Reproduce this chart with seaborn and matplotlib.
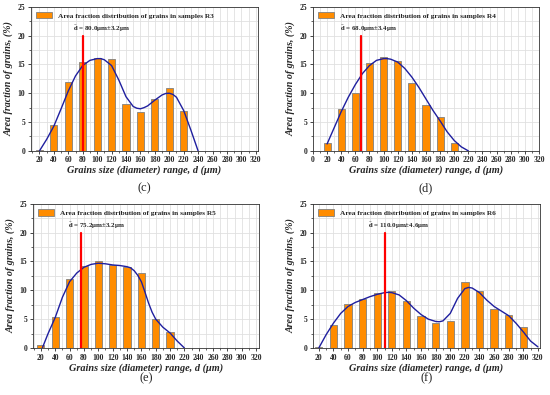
import numpy as np
import pandas as pd
import seaborn as sns
import matplotlib.pyplot as plt
from matplotlib.patches import Patch
from matplotlib.ticker import MultipleLocator

# bar data: grain size class (um) and area fraction (%)
sizes_r3 = [20, 40, 60, 80, 100, 120, 140, 160, 180, 200, 220]
frac_r3 = [0.2, 4.5, 11.9, 15.4, 16.1, 15.9, 8.1, 6.7, 9.0, 10.9, 6.9]
sizes_r4 = [20, 40, 60, 80, 100, 120, 140, 160, 180, 200]
frac_r4 = [1.3, 7.3, 10.1, 15.2, 16.2, 15.6, 11.7, 7.9, 5.8, 1.3]
sizes_r5 = [20, 40, 60, 80, 100, 120, 140, 160, 180, 200]
frac_r5 = [0.5, 5.4, 12.0, 14.2, 15.0, 14.4, 14.1, 13.0, 5.1, 2.8]
sizes_r6 = [20, 40, 60, 80, 100, 120, 140, 160, 180, 200, 220, 240, 260, 280, 300]
frac_r6 = [0.2, 4.0, 7.6, 8.5, 9.6, 9.9, 8.2, 5.6, 4.3, 4.7, 11.4, 9.9, 6.8, 5.8, 3.7]

# fitted curves
fit_x_r3 = [20, 30, 40, 50, 60, 70, 80, 90, 100, 105, 110, 120, 130, 140, 150, 155, 160, 165, 170, 180, 190, 195, 200, 205, 210, 220, 230, 240]
fit_y_r3 = [0.0, 2.0, 4.3, 7.3, 10.4, 13.0, 14.8, 15.7, 16.0, 16.0, 15.8, 14.8, 12.3, 9.4, 7.7, 7.4, 7.3, 7.5, 7.8, 8.8, 9.7, 9.95, 10.0, 9.8, 9.3, 7.0, 3.6, 0.0]
fit_x_r4 = [20, 30, 40, 50, 60, 70, 80, 90, 100, 105, 110, 120, 130, 140, 150, 160, 170, 180, 190, 200, 210, 220]
fit_y_r4 = [1.2, 4.0, 6.8, 9.3, 11.5, 13.4, 14.8, 15.7, 16.0, 16.0, 15.9, 15.4, 14.3, 12.8, 11.0, 9.0, 7.0, 5.2, 3.3, 1.8, 0.7, 0.0]
fit_x_r5 = [22, 30, 40, 50, 60, 70, 80, 90, 100, 110, 120, 130, 140, 145, 150, 155, 160, 165, 170, 175, 180, 190, 200, 210, 220]
fit_y_r5 = [0.0, 2.5, 5.3, 8.8, 11.5, 13.0, 14.0, 14.5, 14.7, 14.6, 14.4, 14.3, 14.1, 13.9, 13.4, 12.6, 11.5, 9.7, 7.8, 6.2, 5.0, 3.6, 2.6, 1.2, 0.0]
fit_x_r6 = [20, 30, 40, 50, 60, 70, 80, 90, 100, 110, 115, 120, 130, 140, 150, 160, 170, 180, 185, 190, 200, 210, 220, 225, 230, 240, 250, 260, 270, 280, 290, 300, 310, 320]
fit_y_r6 = [0.0, 2.3, 4.3, 6.0, 7.2, 7.9, 8.4, 8.9, 9.3, 9.6, 9.65, 9.6, 9.2, 8.2, 6.9, 5.8, 5.0, 4.6, 4.55, 4.7, 6.0, 8.6, 10.3, 10.5, 10.4, 9.6, 8.3, 7.2, 6.4, 5.6, 4.3, 2.8, 1.2, 0.2]

# mean grain size
mean_d = [80.0, 68.0, 75.2, 110.0]
mean_err = [3.2, 3.4, 3.2, 4.6]
samples = ['R3', 'R4', 'R5', 'R6']
panel_tags = ['(c)', '(d)', '(e)', '(f)']

sns.set_style('ticks')
plt.rcParams['font.family'] = ['Liberation Serif', 'DejaVu Serif']
plt.rcParams['mathtext.fontset'] = 'stix'

bar_color = '#ff8c00'
edge_color = '#808080'
fit_color = '#1f1f9f'

fig = plt.figure(figsize=(5.5, 3.95), dpi=100)

# [left, bottom, width, height, xmin, xmax, xticks, tag_y]
boxes = [
    [0.056, 0.618, 0.413, 0.365, 8, 323, list(range(20, 321, 20)), 0.524],
    [0.569, 0.618, 0.411, 0.365, 0, 320, list(range(0, 321, 20)), 0.524],
    [0.060, 0.119, 0.411, 0.365, 9, 324, list(range(20, 321, 20)), 0.043],
    [0.569, 0.119, 0.413, 0.365, 12, 323, list(range(20, 321, 20)), 0.043],
]
label_dx = [-14, -30, -18, -22]

bars = [(sizes_r3, frac_r3), (sizes_r4, frac_r4), (sizes_r5, frac_r5), (sizes_r6, frac_r6)]
fits = [(fit_x_r3, fit_y_r3), (fit_x_r4, fit_y_r4), (fit_x_r5, fit_y_r5), (fit_x_r6, fit_y_r6)]

for i in range(4):
    l, b, w, h, x0, x1, xt, ty = boxes[i]
    ax = fig.add_axes([l, b, w, h])

    # grid first, under everything
    ax.set_axisbelow(True)
    ax.grid(True, which='both', color='#e0e0e0', linewidth=0.6)

    df = pd.DataFrame({'size': bars[i][0], 'frac': bars[i][1]})
    sns.barplot(data=df, x='size', y='frac', native_scale=True, width=0.5,
                color=bar_color, edgecolor=edge_color, linewidth=0.6,
                saturation=1, ax=ax)

    fit = pd.DataFrame({'x': fits[i][0], 'y': fits[i][1]})
    sns.lineplot(data=fit, x='x', y='y', color=fit_color, linewidth=1.0, ax=ax)

    # mean grain size marker
    ax.plot([mean_d[i], mean_d[i]], [0, 20], color='red', linewidth=1.6)
    ax.text(mean_d[i] + label_dx[i], 20.3,
            r'$\bar{\mathbf{d}}$' + ' = %.1f\u03bcm\u00b1%.1f\u03bcm' % (mean_d[i], mean_err[i]),
            fontsize=5, fontweight='bold', ha='left', va='bottom')

    ax.set_xlim(x0, x1)
    ax.set_ylim(0, 25)
    ax.set_xticks(xt)
    ax.set_yticks([0, 5, 10, 15, 20, 25])
    ax.xaxis.set_minor_locator(MultipleLocator(10))
    ax.yaxis.set_minor_locator(MultipleLocator(2.5))
    ax.tick_params(axis='both', which='major', labelsize=5.5, length=2.5, width=0.6, pad=1.5)
    ax.tick_params(axis='both', which='minor', length=1.5, width=0.5)
    for lab in ax.get_xticklabels() + ax.get_yticklabels():
        lab.set_fontweight('bold')
    for s in ax.spines.values():
        s.set_linewidth(0.6)
        s.set_color('#333333')

    ax.set_xlabel('Grains size (diameter) range, d (\u03bcm)', fontsize=7.4,
                  fontweight='bold', fontstyle='italic', labelpad=1)
    ax.set_ylabel('Area fraction of grains, (%)', fontsize=7.2,
                  fontweight='bold', fontstyle='italic', labelpad=3)

    handle = Patch(facecolor=bar_color, edgecolor=edge_color, linewidth=0.6)
    ax.legend([handle], ['Area fraction distribution of grains in samples ' + samples[i]],
              loc='upper left', frameon=False,
              prop={'weight': 'bold', 'size': 5.3}, handlelength=2.2, handleheight=1.0,
              borderaxespad=0.3)

    fig.text(l + w / 2, ty, panel_tags[i], fontsize=9, ha='center', va='center')

fig.savefig('out.png', dpi=100)
